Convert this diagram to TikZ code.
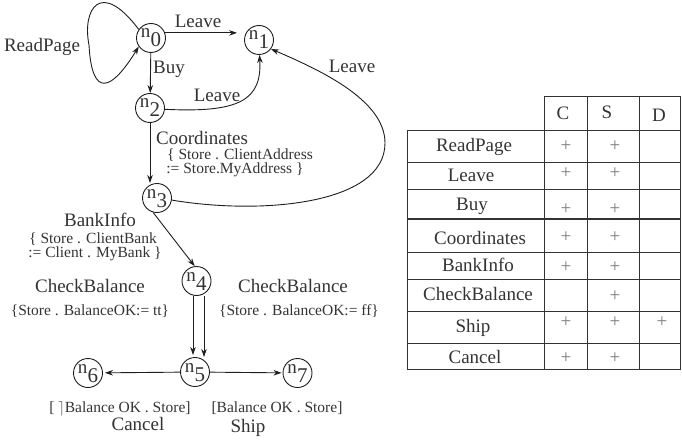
\documentclass[tikz,border=0pt]{standalone}
\usepackage{fontspec}
\setmainfont{Liberation Serif}
\usetikzlibrary{arrows.meta,calc}
\definecolor{txt}{HTML}{333333}
\definecolor{ln}{HTML}{1E1E1E}
\definecolor{tln}{HTML}{333333}
\definecolor{plus}{HTML}{7A7A7A}
\newcommand\nlab[1]{\makebox[0pt]{\raisebox{0pt}[0pt][0pt]{{\fontsize{19}{19}\selectfont n}\kern0.3pt\raisebox{-9pt}{#1}}}}
\tikzset{
  big/.style={font=\fontsize{19}{20}\selectfont, text=txt, inner sep=0pt, text height=12.5pt, text depth=0pt},
  small/.style={font=\fontsize{15.5}{16}\selectfont, text=txt, inner sep=0pt, text height=10.2pt, text depth=0pt},
  state/.style={circle, draw=ln, line width=0.9pt, minimum size=29pt, inner sep=0pt, font=\fontsize{21}{21}\selectfont, text=txt},
  arr/.style={-{Stealth[length=8pt,width=5.5pt]}, line width=0.9pt, draw=ln},
  tl/.style={line width=0.9pt, draw=tln},
  pl/.style={font=\fontsize{19}{19}\selectfont, text=plus, inner sep=0pt}
}
\begin{document}
\begin{tikzpicture}[x=1pt,y=-1pt]
\useasboundingbox (0,0) rectangle (682,441);
% states
\node[state] (n0) at (151,38) {\nlab0};
\node[state] (n1) at (259,40) {\nlab1};
\node[state] (n2) at (150,108) {\nlab2};
\node[state] (n3) at (157,198) {\nlab3};
\node[state] (n4) at (196.5,281) {\nlab4};
\node[state] (n5) at (195,372) {\nlab5};
\node[state] (n6) at (88,373) {\nlab6};
\node[state] (n7) at (297.5,373) {\nlab7};
% edges
\draw[arr] (n0.145) .. controls (100,-22) and (82,10) .. (89,45) .. controls (92,100) and (112,90) .. (n0.-145);
\draw[arr, shorten >=7pt] (n0.20) -- (n0.20 -| n1.west);
\draw[arr] (n0) -- (n2);
\draw[arr] (n2.-5) .. controls (240,113) and (262,100) .. (n1.-88);
\draw[arr] (n2.south) -- (n2.south |- n3.north);
\draw[arr] (n3.-8) .. controls (260,215) and (385,205) .. (385,143) .. controls (385,100) and (320,70) .. (n1.-37);
\draw[arr] (n3.-105) -- (n4.97);
\draw[arr, shorten >=2pt] ([xshift=-3.5pt]n4.south) -- ([xshift=-3.5pt]n4.south |- n5.north);
\draw[arr] ([xshift=7.5pt]n4.south) -- ([xshift=7.5pt]n4.south |- n5.north);
\draw[arr, shorten >=2pt] (n5) -- (n6);
\draw[arr, shorten >=1pt] (n5) -- (n7);
% labels
\node[big] (lrp) at (42,45) {ReadPage};
\node[big] (l01) at (198,21) {Leave};
\node[big] (lbuy) at (169,67) {Buy};
\node[big] (l21) at (217,95) {Leave};
\node[big] (l31) at (352,66) {Leave};
\node[big] (lco) at (202,138) {Coordinates};
\node[small] (lco1) at (240,154.5) {\{ Store . ClientAddress};
\node[small] (lco2) at (235,168.5) {:= Store.MyAddress \}};
\node[big] (lbi) at (100,220) {BankInfo};
\node[small] (lbi1) at (93,238.5) {\{ Store . ClientBank};
\node[small] (lbi2) at (95,252.5) {:= Client . MyBank \}};
\node[big] (lcb1) at (90,286) {CheckBalance};
\node[small] (lcb1a) at (90,310) {\{Store . BalanceOK:= tt\}};
\node[big] (lcb2) at (293,286) {CheckBalance};
\node[small] (lcb2a) at (299,310) {\{Store . BalanceOK:= ff\}};
\node[small] (lc1) at (120,407) {[ $\rceil$Balance OK . Store]};
\node[big] (lc2) at (138,424) {Cancel};
\node[small] (ls1) at (277,407) {[Balance OK . Store]};
\node[big] (ls2) at (248,426) {Ship};
% table grid
\draw[tl] (544,96) -- (680.5,96);
\foreach \yy in {130,162,189,252,279,311,343,369} \draw[tl] (407,\yy) -- (680.5,\yy);
\draw[tl, line width=1.3pt] (407,219) -- (680.5,219);
\draw[tl] (407,130) -- (407,369);
\foreach \xx in {544,587,639,680.5} \draw[tl] (\xx,96) -- (\xx,369);
% table header
\node[big] (hC) at (563,113) {C};
\node[big] (hS) at (607,112) {S};
\node[big] (hD) at (659,115) {D};
% table rows
\node[big] (r1) at (474,145) {ReadPage};
\node[big] (r2) at (471,175) {Leave};
\node[big] (r3) at (472,204) {Buy};
\node[big] (r4) at (480,238) {Coordinates};
\node[big] (r5) at (478,265) {BankInfo};
\node[big] (r6) at (478,294) {CheckBalance};
\node[big] (r7) at (473,326) {Ship};
\node[big] (r8) at (475,357) {Cancel};
% plus signs
\node[pl] (p1c) at (566,146) {+};  \node[pl] (p1s) at (615,146) {+};
\node[pl] (p2c) at (566,173) {+};  \node[pl] (p2s) at (615,173) {+};
\node[pl] (p3c) at (566,209) {+};  \node[pl] (p3s) at (615,209) {+};
\node[pl] (p4c) at (566,237) {+};  \node[pl] (p4s) at (615,237) {+};
\node[pl] (p5c) at (566,267) {+};  \node[pl] (p5s) at (615,267) {+};
\node[pl] (p6s) at (615,296) {+};
\node[pl] (p7c) at (566,322) {+};  \node[pl] (p7s) at (615,322) {+};  \node[pl] (p7d) at (662,322) {+};
\node[pl] (p8c) at (566,358) {+};  \node[pl] (p8s) at (615,358) {+};
\end{tikzpicture}
\end{document}
